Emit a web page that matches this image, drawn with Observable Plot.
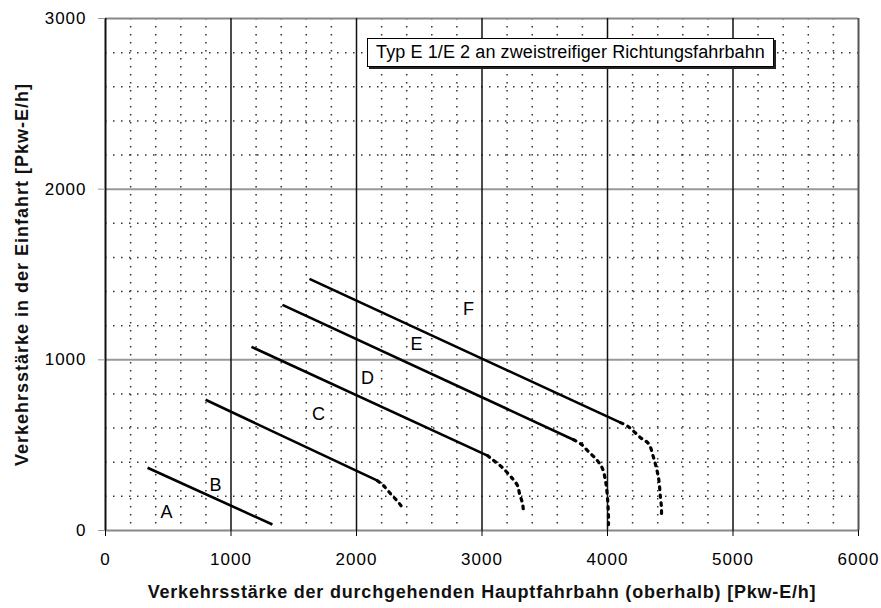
<!DOCTYPE html>
<html><head><meta charset="utf-8">
<script src="https://cdn.jsdelivr.net/npm/d3@7"></script>
<script src="https://cdn.jsdelivr.net/npm/@observablehq/plot@0.6"></script>
<style>
body{margin:0;background:#fff}
#wrap{position:relative;width:881px;height:608px}
#legend{position:absolute;left:367px;top:38px;width:405px;height:27px;background:#fff;border:1.5px solid #000;box-shadow:2px 2px 0 #222;font-family:"Liberation Sans",Arial,sans-serif;font-size:18px;line-height:27px;text-align:center;color:#000;letter-spacing:0.1px}
</style>
</head><body><div id="wrap"></div>
<script>
const xTicks = [0, 1000, 2000, 3000, 4000, 5000, 6000];
const yTicks = [0, 1000, 2000, 3000];
const xMinor = [200,400,600,800,1200,1400,1600,1800,2200,2400,2600,2800,3200,3400,3600,3800,4200,4400,4600,4800,5200,5400,5600,5800];
const yMinor = [200,400,600,800,1200,1400,1600,1800,2200,2400,2600,2800];
const xTitle = "Verkehrsstärke der durchgehenden Hauptfahrbahn (oberhalb) [Pkw-E/h]";
const yTitle = "Verkehrsstärke in der Einfahrt [Pkw-E/h]";
const legendText = "Typ E 1/E 2 an zweistreifiger Richtungsfahrbahn";

const regionLabels = ["A", "B", "C", "D", "E", "F"];
const labelX = [486, 876, 1697, 2088, 2478, 2892];
const labelY = [105, 263, 684, 895, 1094, 1298];

const boundaryNames = ["A/B", "B/C", "C/D", "D/E", "E/F"];
const solidX1 = [335, 797, 1163, 1410, 1625];
const solidY1 = [368, 766, 1076, 1322, 1474];
const solidX2 = [1330, 2167, 3044, 3729, 4104];
const solidY2 = [35, 292, 439, 532, 632];

const curveBCx = [2167, 2215, 2271, 2335, 2380];
const curveBCy = [292, 263, 216, 164, 120];
const curveCDx = [3044, 3084, 3163, 3243, 3283, 3299, 3323, 3331];
const curveCDy = [439, 415, 368, 304, 263, 216, 158, 105];
const curveDEx = [3729, 3785, 3841, 3920, 3960, 3984, 4000, 4008, 4008];
const curveDEy = [532, 509, 468, 409, 363, 292, 193, 76, 35];
const curveEFx = [4104, 4167, 4263, 4327, 4367, 4406, 4422, 4430, 4430];
const curveEFy = [632, 608, 544, 509, 427, 310, 193, 134, 88];

const solid = boundaryNames.map((name, i) => ({name, x1: solidX1[i], y1: solidY1[i], x2: solidX2[i], y2: solidY2[i]}));
const curves = [
  ["B/C", curveBCx, curveBCy], ["C/D", curveCDx, curveCDy],
  ["D/E", curveDEx, curveDEy], ["E/F", curveEFx, curveEFy]
].flatMap(([name, xs, ys]) => xs.map((x, i) => ({name, x, y: ys[i]})));
const labels = regionLabels.map((t, i) => ({t, x: labelX[i], y: labelY[i]}));

const chart = Plot.plot({
  width: 881, height: 608,
  marginLeft: 105, marginRight: 23, marginTop: 18, marginBottom: 78,
  x: {domain: [0, 6000]},
  y: {domain: [0, 3000]},
  style: {fontFamily: "'Liberation Sans', Arial, sans-serif", background: "#fff", color: "#000"},
  marks: [
    Plot.ruleX(xMinor, {stroke: "#333", strokeWidth: 1.5, strokeDasharray: "1.5,6.5"}),
    Plot.ruleY(yMinor, {stroke: "#333", strokeWidth: 1.5, strokeDasharray: "1.5,6.5"}),
    Plot.ruleY([1000, 2000], {stroke: "#999", strokeWidth: 2}),
    Plot.ruleY([0, 3000], {stroke: "#888", strokeWidth: 2}),
    Plot.ruleX([1000, 2000, 3000, 4000, 5000], {stroke: "#111", strokeWidth: 1.5}),
    Plot.ruleX([6000], {stroke: "#555", strokeWidth: 2}),
    Plot.ruleX([0], {stroke: "#111", strokeWidth: 2}),
    Plot.axisX(xTicks, {tickSize: 6, tickPadding: 16, fontSize: 17, label: null, tickFormat: d => String(d)}),
    Plot.axisY(yTicks, {tickSize: 7, tickPadding: 12, fontSize: 17, label: null, stroke: "#999", tickFormat: d => String(d)}),
    Plot.link(solid, {x1: "x1", y1: "y1", x2: "x2", y2: "y2", stroke: "#000", strokeWidth: 2.6}),
    Plot.line(curves, {x: "x", y: "y", z: "name", stroke: "#000", strokeWidth: 3.2, strokeDasharray: "2.6,5.4", curve: "catmull-rom"}),
    Plot.text(labels, {x: "x", y: "y", text: "t", fontSize: 18, fill: "#000"}),
    Plot.text([xTitle], {frameAnchor: "bottom", dy: 67, fontSize: 18, fontWeight: "bold", fill: "#111"}),
    Plot.text([yTitle], {frameAnchor: "left", textAnchor: "middle", dx: -83, rotate: -90, fontSize: 18, fontWeight: "bold", fill: "#111"})
  ]
});
const wrap = document.getElementById("wrap");
wrap.appendChild(chart);
const tickSet = new Set([...xTicks, ...yTicks].map(String));
d3.select(chart).selectAll("text").each(function() {
  const t = this.textContent;
  if (t === xTitle) this.style.letterSpacing = "0.8px";
  else if (t === yTitle) this.style.letterSpacing = "1px";
  else if (tickSet.has(t)) this.style.letterSpacing = "1px";
});
const lg = document.createElement("div");
lg.id = "legend";
lg.textContent = legendText;
wrap.appendChild(lg);
</script>
</body></html>
